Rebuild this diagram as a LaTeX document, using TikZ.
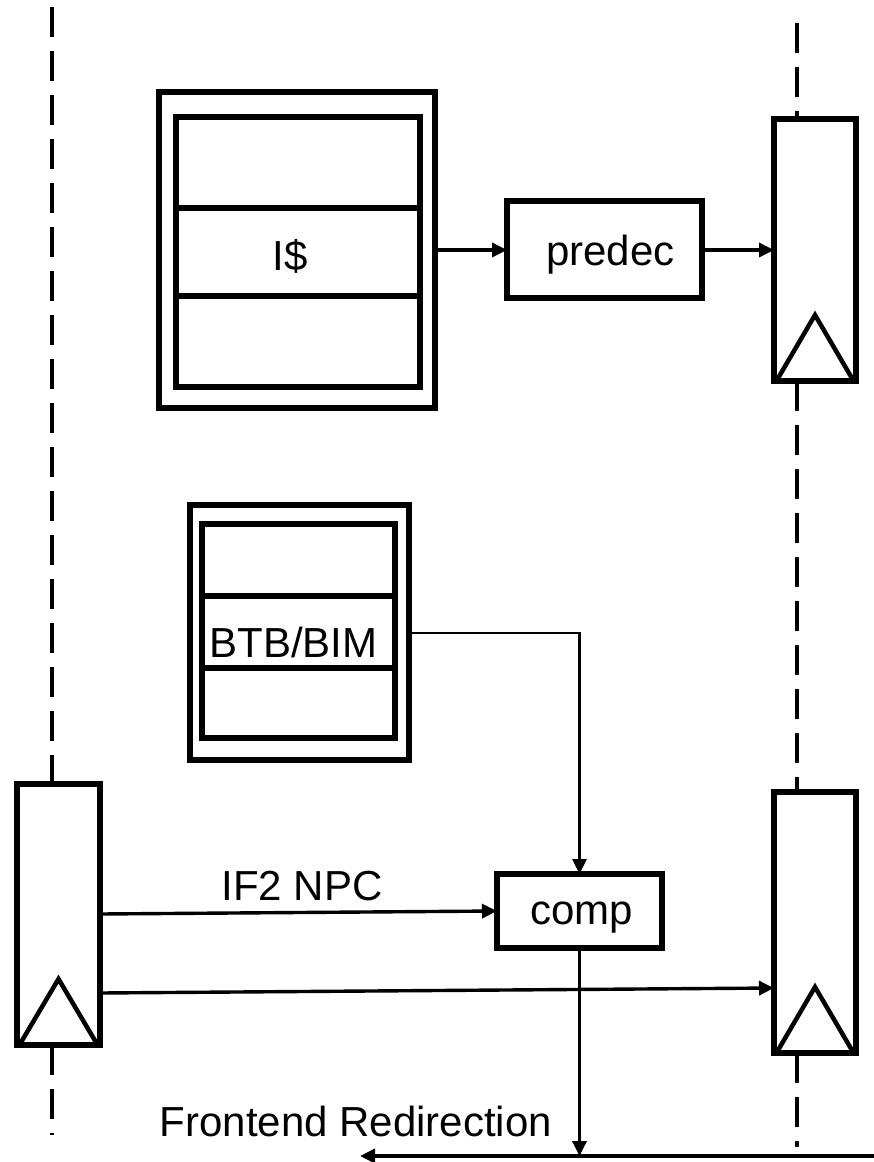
\documentclass[tikz,border=0pt]{standalone}
\usepackage{fontspec}
\setmainfont{Liberation Sans}
\usetikzlibrary{arrows.meta,calc}
\begin{document}
\begin{tikzpicture}[x=1pt,y=-1pt,
  font=\fontsize{42}{48}\selectfont,
  blk/.style={draw,line width=#1,inner sep=0pt,outer sep=0pt,anchor=north west},
  blk/.default=5.5pt,
  reg/.style={blk=5.5pt,minimum width=82pt,minimum height=262pt},
  clk/.style={line width=4.5pt,line join=miter},
  stage/.style={line width=3.2pt,dash pattern=on 30pt off 14pt},
  tip/.style={-{Triangle[length=15pt,width=14pt]}},
  arr/.style={line width=3.4pt,tip},
  lbl/.style={inner sep=0pt}]
\useasboundingbox (0,0) rectangle (874,1162);

% pipeline stage boundaries
\draw[stage] (52,7) -- (52,784);
\draw[stage] (52,1045) -- (52,1135);
\draw[stage] (797,23) -- (797,119);
\draw[stage] (797,381) -- (797,792);
\draw[stage] (797,1053) -- (797,1147);

% instruction cache
\node[blk,minimum width=276pt,minimum height=316pt] (icache) at (159,92) {};
\node[blk,minimum width=244pt,minimum height=91pt] (icA) at (176,117) {};
\node[blk,minimum width=244pt,minimum height=88pt] (icB) at (176,208) {};
\node[blk,minimum width=244pt,minimum height=91pt] (icC) at (176,296) {};
\node[lbl] at ($(icB.center)+(-8,4)$) {I\$};

% predecoder
\node[blk,minimum width=195pt,minimum height=97pt] (predec) at (507,201) {};
\node[lbl] at ($(predec.center)+(6,5)$) {predec};

% branch target buffer
\node[blk,minimum width=219pt,minimum height=255pt] (btb) at (190,505) {};
\node[blk,minimum width=193pt,minimum height=72pt] (btbA) at (202,524) {};
\node[blk,minimum width=193pt,minimum height=72pt] (btbB) at (202,596) {};
\node[blk,minimum width=193pt,minimum height=70pt] (btbC) at (202,668) {};
\node[lbl] at ($(btbB.center)+(-5,10)$) {BTB/BIM};

% comparator
\node[blk,minimum width=165pt,minimum height=74pt] (comp) at (497,874) {};
\node[lbl] at ($(comp.center)+(2,7)$) {comp};

% pipeline registers
\node[reg] (rtop) at (774,119) {};
\node[reg,minimum width=83pt,minimum height=261pt] (rleft) at (17,784) {};
\node[reg,minimum height=261pt] (rbot) at (774,792) {};
\foreach \r in {rtop,rleft,rbot}
  \draw[clk] ($(\r.south west)+(3,-1)$) -- ($(\r.south)+(0,-66)$) -- ($(\r.south east)+(-3,-1)$);

% datapath
\draw[arr] (icache.east |- 0,250) -- (predec.west |- 0,250);
\draw[arr] (predec.east |- 0,250) -- (rtop.west |- 0,250);
\draw[line width=2.8pt,tip] (btb.east |- 0,633) -| (comp.north);
\draw[arr] (rleft.east |- 0,914) -- (comp.west);
\node[lbl] at (302,886) {IF2 NPC};
\draw[arr] (rleft.east |- 0,993) -- (rbot.west |- 0,988);

% redirection path
\coordinate (redirR) at (874,1156);
\coordinate (redirL) at (360,1156);
\draw[arr] (comp.south) -- (comp.south |- redirR);
\draw[line width=4.2pt,tip] (redirR) -- (redirL);
\node[lbl] at (356,1121) {Frontend Redirection};
\end{tikzpicture}
\end{document}
